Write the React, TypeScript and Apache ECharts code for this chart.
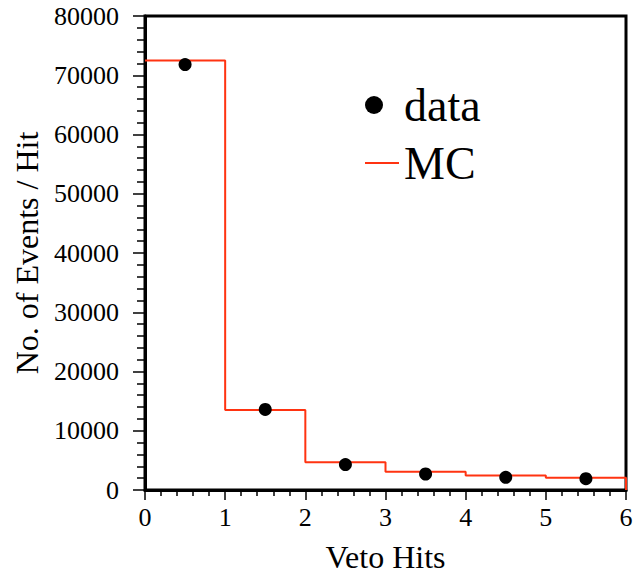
import React, { useEffect, useRef } from "react";
import * as echarts from "echarts";

// Bin edges of the histogram (Veto Hits)
const binEdges = [0, 1, 2, 3, 4, 5, 6];
// Measured data (points at bin centres)
const dataValues = [71800, 13600, 4300, 2700, 2150, 1900];
// Monte Carlo expectation per bin
const mcValues = [72500, 13500, 4700, 3100, 2450, 2050];
// Axis tick labels
const xTicks = [0, 1, 2, 3, 4, 5, 6];
const yTicks = [0, 10000, 20000, 30000, 40000, 50000, 60000, 70000, 80000];

const FONT = "'Liberation Serif', 'Times New Roman', serif";
const RED = "#ff3311";

export default function App() {
  const ref = useRef<HTMLDivElement>(null);

  useEffect(() => {
    if (!ref.current) return;
    const chart = echarts.init(ref.current, null, { renderer: "svg" });

    const centres = dataValues.map((_, i) => (binEdges[i] + binEdges[i + 1]) / 2);
    const scatterData = dataValues.map((v, i) => [centres[i], v]);
    const stepData: number[][] = mcValues.map((v, i) => [binEdges[i], v]);
    const last = binEdges[binEdges.length - 1];
    stepData.push([last, mcValues[mcValues.length - 1]]);
    stepData.push([last, 0]);

    chart.setOption({
      animation: false,
      backgroundColor: "#ffffff",
      grid: {
        left: 145,
        right: 13,
        top: 16,
        bottom: 82,
        show: true,
        borderColor: "#000",
        borderWidth: 3,
      },
      legend: {
        orient: "vertical",
        left: 365,
        top: 82,
        padding: 0,
        itemGap: 12,
        itemWidth: 34,
        itemHeight: 18,
        textStyle: { fontFamily: FONT, fontSize: 46, color: "#000" },
        data: [
          {
            name: "data",
            icon: "path://M0,0 M34,18 M0,9 A9,9,0,1,1,18,9 A9,9,0,1,1,0,9 Z",
            itemStyle: { color: "#000", opacity: 1 },
          },
          {
            name: "MC",
            icon: "path://M0,0 M34,18 M0,8 L34,8 L34,10 L0,10 Z",
            itemStyle: { color: RED, opacity: 1 },
          },
        ],
      },
      xAxis: {
        type: "value",
        min: xTicks[0],
        max: xTicks[xTicks.length - 1],
        interval: 1,
        name: "Veto Hits",
        nameLocation: "middle",
        nameGap: 51,
        nameTextStyle: { fontFamily: FONT, fontSize: 32, color: "#000" },
        axisLine: { show: true, lineStyle: { color: "#000", width: 3 } },
        axisTick: { show: true, inside: false, length: 10, lineStyle: { color: "#000", width: 1.5 } },
        minorTick: { show: true, splitNumber: 5, length: 6, lineStyle: { color: "#000", width: 1.5 } },
        splitLine: { show: false },
        axisLabel: {
          fontFamily: FONT,
          fontSize: 26,
          color: "#000",
          margin: 14,
          formatter: (v: number) => String(v),
        },
      },
      yAxis: {
        type: "value",
        min: yTicks[0],
        max: yTicks[yTicks.length - 1],
        interval: 10000,
        name: "No. of Events / Hit",
        nameLocation: "middle",
        nameGap: 97,
        nameTextStyle: { fontFamily: FONT, fontSize: 32, color: "#000" },
        axisLine: { show: true, lineStyle: { color: "#000", width: 3 } },
        axisTick: { show: true, inside: false, length: 12, lineStyle: { color: "#000", width: 1.5 } },
        minorTick: { show: true, splitNumber: 5, length: 8, lineStyle: { color: "#000", width: 1.5 } },
        splitLine: { show: false },
        axisLabel: {
          fontFamily: FONT,
          fontSize: 26,
          color: "#000",
          margin: 26,
          formatter: (v: number) => String(v),
        },
      },
      series: [
        {
          name: "MC",
          type: "line",
          step: "end",
          data: stepData,
          showSymbol: false,
          symbol: "none",
          lineStyle: { color: RED, width: 2 },
          itemStyle: { color: RED },
          z: 2,
        },
        {
          name: "data",
          type: "scatter",
          data: scatterData,
          symbol: "circle",
          symbolSize: 13,
          itemStyle: { color: "#000", opacity: 1 },
          z: 3,
        },
      ],
    });

    return () => chart.dispose();
  }, []);

  return (
    <div
      ref={ref}
      style={{ position: "fixed", left: 0, top: 0, width: 639, height: 578, background: "#fff" }}
    />
  );
}
